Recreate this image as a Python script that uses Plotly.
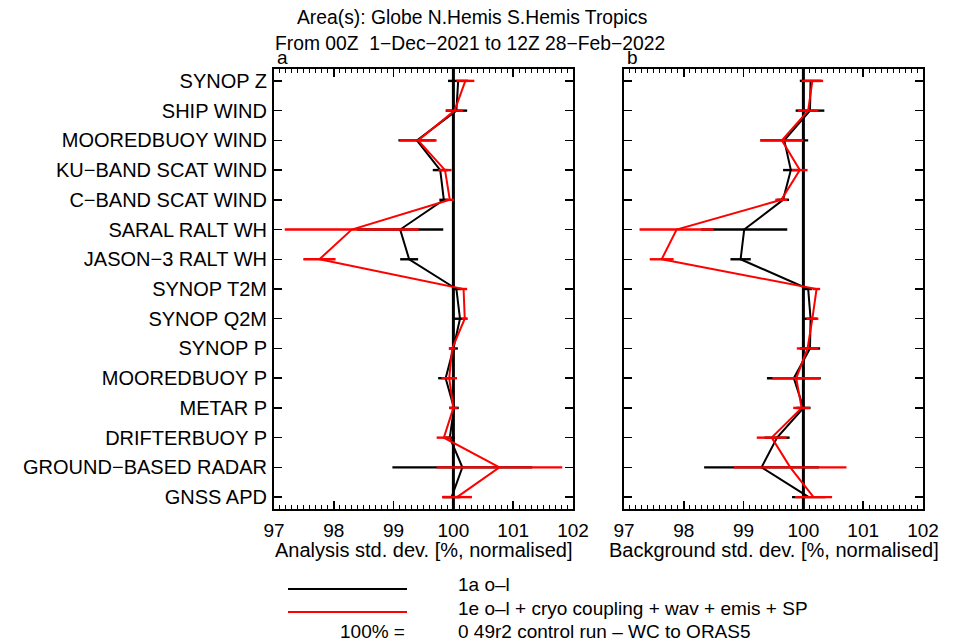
import plotly.graph_objects as go

categories = ["SYNOP Z", "SHIP WIND", "MOOREDBUOY WIND", "KU−BAND SCAT WIND", "C−BAND SCAT WIND",
              "SARAL RALT WH", "JASON−3 RALT WH", "SYNOP T2M", "SYNOP Q2M", "SYNOP P",
              "MOOREDBUOY P", "METAR P", "DRIFTERBUOY P", "GROUND−BASED RADAR", "GNSS APD"]

# Panel a: analysis std. dev.
an_1a = [100.08, 100.05, 99.39, 99.78, 99.84, 99.11, 99.26, 100.05, 100.11, 100.00, 99.87, 100.01, 99.94, 100.15, 99.97]
an_1a_err = [0.17, 0.18, 0.31, 0.125, 0.075, 0.72, 0.15, 0.075, 0.12, 0.075, 0.125, 0.08, 0.085, 1.17, 0.15]
an_1e = [100.20, 100.02, 99.41, 99.86, 99.94, 98.30, 97.76, 100.17, 100.19, 99.98, 99.93, 100.00, 99.84, 100.77, 100.06]
an_1e_err = [0.15, 0.14, 0.31, 0.11, 0.07, 1.12, 0.27, 0.06, 0.05, 0.055, 0.13, 0.07, 0.12, 1.05, 0.25]

# Panel b: background std. dev.
bg_1a = [100.12, 100.11, 99.68, 99.79, 99.66, 99.01, 98.95, 100.08, 100.12, 100.11, 99.84, 100.00, 99.56, 99.30, 100.09]
bg_1a_err = [0.18, 0.24, 0.40, 0.13, 0.10, 0.72, 0.17, 0.07, 0.11, 0.17, 0.45, 0.12, 0.21, 0.96, 0.28]
bg_1e = [100.15, 100.08, 99.64, 99.94, 99.63, 97.88, 97.63, 100.22, 100.15, 100.07, 99.88, 99.97, 99.47, 99.78, 100.17]
bg_1e_err = [0.18, 0.17, 0.36, 0.13, 0.10, 0.62, 0.20, 0.06, 0.10, 0.18, 0.40, 0.14, 0.25, 0.94, 0.31]

x_ticks = [97, 98, 99, 100, 101, 102]

FONT = "Liberation Sans, Arial, Helvetica, sans-serif"
W, H = 963, 643


def px(x):
    return x / W


def py(y):
    return 1 - y / H


fig = go.Figure()


def add_series(x, err, color, xa, ya):
    fig.add_trace(go.Scatter(
        x=x, y=categories, mode="lines", xaxis=xa, yaxis=ya,
        line=dict(color=color, width=2),
        error_x=dict(type="data", array=err, visible=True, color=color, thickness=2.4, width=0),
        showlegend=False, hoverinfo="skip"))


add_series(an_1a, an_1a_err, "black", "x", "y")
add_series(an_1e, an_1e_err, "red", "x", "y")
add_series(bg_1a, bg_1a_err, "black", "x2", "y2")
add_series(bg_1e, bg_1e_err, "red", "x2", "y2")

xa_dom = [px(274), px(573)]
xb_dom = [px(624), px(923)]
y_dom = [py(509), py(69)]

minor = dict(dtick=0.1, ticks="inside", ticklen=4, tickcolor="black", tickwidth=1, showgrid=False)
xcommon = dict(range=[97, 102], tickvals=x_ticks, ticks="inside", ticklen=8, tickwidth=1.5,
               tickcolor="black", showline=True, linecolor="black", linewidth=2, mirror=True,
               showgrid=False, zeroline=False, ticklabelstandoff=3, automargin=False,
               tickfont=dict(family=FONT, size=19, color="black"), minor=minor)
xtop = dict(range=[97, 102], tickvals=x_ticks, ticks="inside", ticklen=8, tickwidth=1.5,
            tickcolor="black", showline=False, showgrid=False, zeroline=False, automargin=False,
            showticklabels=False, side="top", minor=minor)
ycommon = dict(type="category", categoryorder="array", categoryarray=categories,
               range=[14.4, -0.4], ticks="inside", ticklen=8, tickwidth=1.5, tickcolor="black",
               showline=True, linecolor="black", linewidth=2, mirror="ticks", showgrid=False,
               zeroline=False, domain=y_dom, automargin=False)

fig.update_layout(
    width=W, height=H, margin=dict(l=0, r=0, t=0, b=0, autoexpand=False),
    paper_bgcolor="white", plot_bgcolor="white",
    font=dict(family=FONT, color="black"),
    showlegend=False,
    xaxis=dict(domain=xa_dom, anchor="y", **xcommon),
    xaxis2=dict(domain=xb_dom, anchor="y2", **xcommon),
    xaxis3=dict(domain=xa_dom, anchor="y", overlaying="x", **xtop),
    xaxis4=dict(domain=xb_dom, anchor="y2", overlaying="x2", **xtop),
    yaxis=dict(anchor="x", tickfont=dict(family=FONT, size=20, color="black"), ticklabelstandoff=1, **ycommon),
    yaxis2=dict(anchor="x2", showticklabels=False, **ycommon),
)

# invisible traces so the top tick axes render
fig.add_trace(go.Scatter(x=[100], y=[categories[0]], xaxis="x3", yaxis="y", mode="markers",
                         marker=dict(opacity=0), showlegend=False, hoverinfo="skip"))
fig.add_trace(go.Scatter(x=[100], y=[categories[0]], xaxis="x4", yaxis="y2", mode="markers",
                         marker=dict(opacity=0), showlegend=False, hoverinfo="skip"))

# 100% reference lines
for xr in ["x", "x2"]:
    fig.add_shape(type="line", xref=xr, yref="paper", x0=100, x1=100, y0=y_dom[0], y1=y_dom[1],
                  line=dict(color="black", width=3), layer="below")


def ann(text, x, y, xanchor="center", size=19):
    fig.add_annotation(text=text, x=px(x), y=py(y), xref="paper", yref="paper",
                       xanchor=xanchor, yanchor="middle", showarrow=False,
                       font=dict(family=FONT, size=size, color="black"))


ann("Area(s): Globe N.Hemis S.Hemis Tropics", 472, 17, size=19.3)
ann("From 00Z  1−Dec−2021 to 12Z 28−Feb−2022", 470, 43, size=19.3)
ann("a", 275, 58, xanchor="left")
ann("b", 625, 58, xanchor="left")
ann("Analysis std. dev. [%, normalised]", 423.5, 550, size=20)
ann("Background std. dev. [%, normalised]", 773.5, 550, size=20)

# legend
for yy, col in [(589, "black"), (612, "red")]:
    fig.add_shape(type="line", xref="paper", yref="paper", x0=px(288), x1=px(407),
                  y0=py(yy), y1=py(yy), line=dict(color=col, width=2))
ann("100% =", 407, 631, xanchor="right")
ann("1a o–l", 456, 584, xanchor="left")
ann("1e o–l + cryo coupling + wav + emis + SP", 456, 608, xanchor="left")
ann("0 49r2 control run – WC to ORAS5", 456, 631, xanchor="left")

fig.write_html("out.html", config={"displayModeBar": False, "staticPlot": True},
               post_script="document.body.style.margin='0px';document.body.style.overflow='hidden';")
